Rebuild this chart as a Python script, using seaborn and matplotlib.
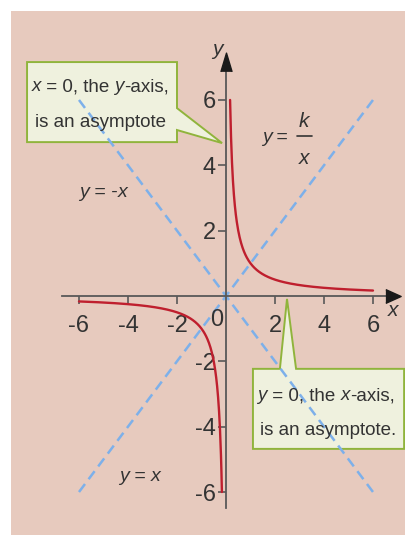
import numpy as np
import pandas as pd
import matplotlib
matplotlib.use("Agg")
import matplotlib.pyplot as plt
from matplotlib.patches import Rectangle, Polygon
from matplotlib.offsetbox import TextArea, HPacker, AnnotationBbox
import seaborn as sns

# Reciprocal function y = k / x and its two lines of symmetry
K = 1.0
x_right = np.linspace(1 / 6, 6, 300)
x_left = np.linspace(-6, -1 / 6, 300)
diag_x = [-6, 6]
x_ticks = [-6, -4, -2, 2, 4, 6]
y_ticks = [-6, -4, -2, 2, 4, 6]

sns.set_style("white")
FONT = ["Liberation Sans", "DejaVu Sans"]
plt.rcParams["font.family"] = FONT
plt.rcParams["axes.unicode_minus"] = False

INK = "#333333"
AXIS = "#595959"
RED = "#bf1f2e"
BLUE = "#7db0ea"
PINK = "#e7cabe"
BOX_FILL = "#eff1de"
BOX_EDGE = "#90b43c"

fig = plt.figure(figsize=(4.06, 5.35), dpi=100)
fig.patch.set_facecolor("white")
fig.add_artist(Rectangle((11 / 406, 0), 1, 524 / 535, transform=fig.transFigure,
                         facecolor=PINK, edgecolor="none", zorder=0))

ax = fig.add_axes([0, 0, 1, 1])
ax.set_facecolor("none")
ax.set_xlim(-9.224, 7.347)
ax.set_ylim(-7.316, 9.06)

curve = pd.DataFrame({"x": np.concatenate([x_right, x_left]),
                      "y": np.concatenate([K / x_right, K / x_left]),
                      "branch": ["right"] * len(x_right) + ["left"] * len(x_left)})
diag = pd.DataFrame({"x": diag_x * 2,
                     "y": diag_x + [-v for v in diag_x],
                     "line": ["y=x"] * 2 + ["y=-x"] * 2})

sns.lineplot(data=diag, x="x", y="y", units="line", estimator=None, sort=False,
             color=BLUE, lw=1.8, linestyle=(0, (4, 2.4)), ax=ax, zorder=2)
sns.lineplot(data=curve, x="x", y="y", units="branch", estimator=None, sort=False,
             color=RED, lw=1.7, ax=ax, zorder=3)

# Axes through the origin
for side in ("top", "right"):
    ax.spines[side].set_visible(False)
ax.spines["left"].set_position(("data", 0))
ax.spines["bottom"].set_position(("data", 0))
ax.spines["left"].set_bounds(-6.5, 7.0)
ax.spines["bottom"].set_bounds(-6.69, 6.7)
for s in ("left", "bottom"):
    ax.spines[s].set_color(AXIS)
    ax.spines[s].set_linewidth(1.3)
    ax.spines[s].set_zorder(2.5)

ax.set_xticks(x_ticks)
ax.set_yticks(y_ticks)
ax.set_xticklabels([str(v) for v in x_ticks])
ax.set_yticklabels([str(v) for v in y_ticks])
ax.tick_params(axis="x", bottom=True, direction="out", length=6, width=1.2, color=AXIS,
               labelsize=17, labelcolor=INK, pad=8)
ax.tick_params(axis="y", left=True, direction="out", length=6, width=1.2, color=AXIS,
               labelsize=17, labelcolor=INK, pad=1.5)
ax.set_xlabel("")
ax.set_ylabel("")

# Arrow heads
ax.plot([6.80], [0], marker=[(-1, -0.9), (1, 0), (-1, 0.9)], ms=11, color="#1a1a1a",
        clip_on=False, zorder=4)
ax.plot([0], [7.15], marker=[(-0.6, -1), (0, 1), (0.6, -1)], ms=13.5, color="#1a1a1a",
        clip_on=False, zorder=4)

ax.text(6.82, -0.43, "x", fontsize=15, style="italic", color=INK, ha="center", va="center")
ax.text(-0.33, 7.56, "y", fontsize=15, style="italic", color=INK, ha="center", va="center")
ax.text(-0.37, -0.73, "0", fontsize=17, color=INK, ha="center", va="center")

# Callout boxes
box1 = [(-8.12, 7.16), (-2.0, 7.16), (-2.0, 5.75), (-0.16, 4.68), (-2.0, 5.08),
        (-2.0, 4.71), (-8.12, 4.71)]
box2 = [(1.10, -2.23), (2.20, -2.23), (2.49, -0.09), (2.86, -2.23), (7.27, -2.23),
        (7.27, -4.68), (1.10, -4.68)]
for pts in (box1, box2):
    ax.add_patch(Polygon(pts, closed=True, facecolor=BOX_FILL, edgecolor=BOX_EDGE,
                         lw=1.4, zorder=1.5, joinstyle="miter"))


def rich(x, y, parts, size=13.5):
    """Draw one line of text built from (string, italic) pieces, centred on (x, y)."""
    areas = [TextArea(s, textprops=dict(fontsize=size, color=INK, family=FONT,
                                        style="italic" if it else "normal"))
             for s, it in parts]
    pack = HPacker(children=areas, align="baseline", pad=0, sep=0)
    ab = AnnotationBbox(pack, (x, y), xycoords="data", frameon=False,
                        box_alignment=(0.5, 0.5), pad=0, zorder=5)
    ax.add_artist(ab)


rich(-5.14, 6.40, [("x", True), (" = 0, the ", False), ("y", True), ("-axis,", False)])
rich(-5.14, 5.30, [("is an asymptote", False)])
rich(4.08, -3.06, [("y", True), (" = 0, the ", False), ("x", True), ("-axis,", False)])
rich(4.16, -4.13, [("is an asymptote.", False)])
rich(-5.02, 3.18, [("y", True), (" = -", False), ("x", True)], size=14)
rich(-3.51, -5.54, [("y", True), (" = ", False), ("x", True)], size=14)

# y = k / x label
rich(2.0, 4.84, [("y", True), (" =", False)], size=14)
ax.text(3.18, 5.33, "k", fontsize=15, style="italic", color=INK, ha="center", va="center")
ax.text(3.18, 4.22, "x", fontsize=15, style="italic", color=INK, ha="center", va="center")
ax.plot([2.91, 3.49], [4.90, 4.90], color=INK, lw=1.2)

fig.savefig("out.png", dpi=100)
